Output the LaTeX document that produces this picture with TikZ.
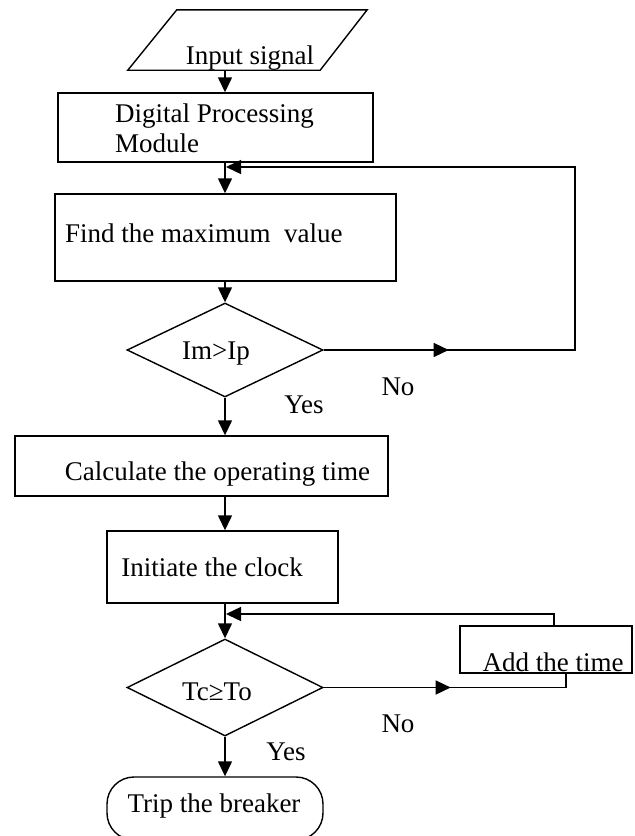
\documentclass[tikz,border=0pt]{standalone}
\usepackage{fontspec}
\setmainfont{Liberation Serif}
\usetikzlibrary{shapes.geometric,arrows.meta}

\tikzset{
  wire/.style={line width=1.4pt},
  arr/.style={wire,-{Triangle[length=15pt,width=14pt]}},
  box/.style={draw,wire,rectangle,inner sep=0pt},
  decision/.style={draw,wire,diamond,inner sep=0pt,minimum width=196pt},
  io/.style={rectangle,inner sep=0pt},
  term/.style={draw,wire,rectangle,rounded corners=27pt,inner sep=0pt},
  lbl/.style={inner sep=0pt,font=\fontsize{27}{30}\selectfont}
}

\begin{document}
\begin{tikzpicture}[x=1pt,y=-1pt]
\useasboundingbox (0,0) rectangle (635,836);
% main column and the joins of the two loops
\coordinate (col) at (225,0);
\coordinate (join1) at (226,167);
\coordinate (join2) at (226,614);
\coordinate (corner1) at (575,167);

% shapes
\node[io,minimum width=239pt,minimum height=60pt] (input) at (247.5,40) {};
\draw[wire] (input.south west) -- ([xshift=49pt]input.north west) -- (input.north east)
  -- ([xshift=-47pt]input.south east) -- cycle;
\node[box,minimum width=315pt,minimum height=69pt] (dpm) at (215.5,127.5) {};
\node[box,minimum width=341pt,minimum height=87pt] (findmax) at (225.5,237.5) {};
\node[decision,minimum height=94pt] (cmp1) at (225,350) {};
\node[box,minimum width=373pt,minimum height=60pt] (calc) at (201.5,466) {};
\node[box,minimum width=231pt,minimum height=72pt] (clock) at (222.5,567) {};
\node[decision,minimum height=97pt] (cmp2) at (225,687.5) {};
\node[box,minimum width=172pt,minimum height=47pt] (addtime) at (546,649.5) {};
\node[term,minimum width=216pt,minimum height=63pt] (trip) at (215,808.5) {};

% texts
\node[lbl,anchor=base] (inputtxt) at (250,64) {Input signal};
\node[lbl,anchor=north west,align=left] (dpmtxt) at (115,104) {Digital Processing\\Module};
\node[lbl,anchor=base west] (findtxt) at (65,242) {Find the maximum~~value};
\node[lbl,anchor=base] (cmp1txt) at (216,359) {Im>Ip};
\node[lbl,anchor=base] (yes1) at (304,413) {Yes};
\node[lbl,anchor=base] (no1) at (398,395) {No};
\node[lbl,anchor=base] (calctxt) at (217.5,480) {Calculate the operating time};
\node[lbl,anchor=base] (clocktxt) at (212,576) {Initiate the clock};
\node[lbl,anchor=base] (cmp2txt) at (217,700) {Tc≥To};
\node[lbl,anchor=base] (no2) at (398,732) {No};
\node[lbl,anchor=base] (yes2) at (286,760) {Yes};
\node[lbl,anchor=base] (addtxt) at (553,671) {Add the time};
\node[lbl,anchor=base] (triptxt) at (214,812) {Trip the breaker};

% main flow
\draw[arr] (input.south -| col) -- (dpm.north -| col);
\draw[arr] (dpm.south -| col) -- (findmax.north -| col);
\draw[arr] (findmax.south -| col) -- (cmp1.north);
\draw[arr] (cmp1.south) -- (calc.north -| col);
\draw[arr] (calc.south -| col) -- (clock.north -| col);
\draw[arr] (clock.south -| col) -- (cmp2.north);
\draw[arr] (cmp2.south) -- (trip.north -| col);

% No branches
\draw[arr] (cmp1.east) -- ++(125,0);
\draw[arr] (cmp1.east) -| (corner1) -- (join1);
\draw[arr] (cmp2.east) -- ++(127,0);
\draw[wire] (cmp2.east) -| ([xshift=20pt]addtime.south);
\draw[arr] ([xshift=8pt]addtime.north) |- (join2);
\end{tikzpicture}
\end{document}
